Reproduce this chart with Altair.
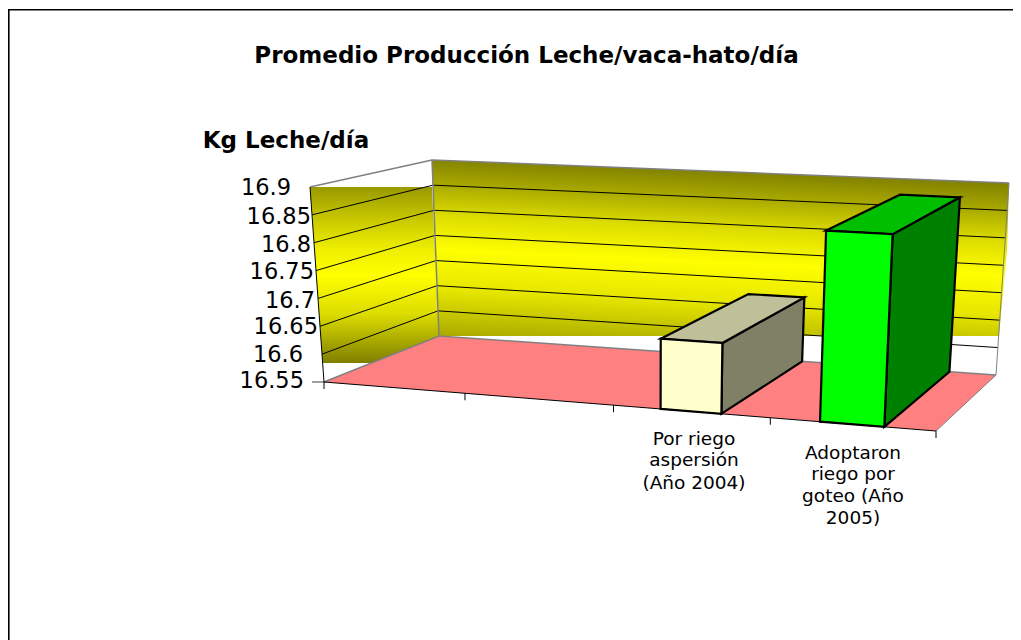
import altair as alt
import pandas as pd

# ---- data ----
categories = ["", "", "Por riego aspersión (Año 2004)", "Adoptaron riego por goteo (Año 2005)"]
values = [None, None, 16.67, 16.87]
y_ticks = [16.55, 16.6, 16.65, 16.7, 16.75, 16.8, 16.85, 16.9]
y_tick_labels = ["16.55", "16.6", "16.65", "16.7", "16.75", "16.8", "16.85", "16.9"]
label_lines = [["Por riego", "aspersión", "(Año 2004)"],
               ["Adoptaron", "riego por", "goteo (Año", "2005)"]]
title = "Promedio Producción Leche/vaca-hato/día"
axis_title = "Kg Leche/día"

# ---- oblique view geometry (page pixels) ----
FLOOR = [(324, 382), (936, 431), (996, 375), (439, 336)]   # front-left, front-right, back-right, back-left
RISE = [(-14, -195), (11, -212), (13, -192), (-7, -176)]   # full axis height seen at each floor corner
BAR_WIDTH = 0.097
LABEL_RIGHT = [304, 303, 318, 315, 314, 311, 311, 291]
LABEL_Y = [381, 355, 327, 301, 272, 245, 217, 188]
CAT_X = [694, 853]
CAT_Y = [[439, 460, 483], [453, 474, 496, 518]]
BAR_STYLE = {
    2: {"front": "#FFFFCC", "top": "#BFBF99", "side": "#808066"},
    3: {"front": "#00FF00", "top": "#00BF00", "side": "#008000"},
}
LEFT_WALL_STOPS = [(0, "#999900"), (0.2, "#CCCC00"), (0.35, "#EEEE00"), (0.5, "#FFFF00"),
                   (0.72, "#DDDD00"), (0.9, "#A0A000"), (1, "#7F7F00")]
BACK_WALL_STOPS = [(0, "#7F7F00"), (0.16, "#AAAA00"), (0.33, "#DDDD00"), (0.52, "#FFFF00"),
                   (0.74, "#E6E600"), (1, "#AAAA00")]


def homography(q):
    (x0, y0), (x1, y1), (x2, y2), (x3, y3) = q
    dx1, dy1 = x1 - x2, y1 - y2
    dx2, dy2 = x3 - x2, y3 - y2
    sx, sy = x0 - x1 + x2 - x3, y0 - y1 + y2 - y3
    den = dx1 * dy2 - dx2 * dy1
    g = (sx * dy2 - dx2 * sy) / den
    h = (dx1 * sy - sx * dy1) / den
    a, b, c = x1 - x0 + g * x1, x3 - x0 + h * x3, x0
    d, e, f = y1 - y0 + g * y1, y3 - y0 + h * y3, y0

    def proj(u, w):
        k = g * u + h * w + 1
        return (a * u + b * w + c) / k, (d * u + e * w + f) / k
    return proj


floor_h = homography(FLOOR)
vmin, vmax = y_ticks[0], y_ticks[-1]


def P(u, w, v):
    t = (v - vmin) / (vmax - vmin)
    fx, fy = floor_h(u, w)
    (a, b), (c, d), (e, f), (g, h) = RISE
    rx = (a * (1 - u) + c * u) * (1 - w) + (g * (1 - u) + e * u) * w
    ry = (b * (1 - u) + d * u) * (1 - w) + (h * (1 - u) + f * u) * w
    return fx + rx * t, fy + ry * t


xs = alt.Scale(domain=[8, 1013], range=[0, 1005], nice=False, zero=False)
ys = alt.Scale(domain=[8, 640], range=[0, 632], nice=False, zero=False)
X = alt.X("x:Q", scale=xs, axis=None)
Y = alt.Y("y:Q", scale=ys, axis=None)


def area_rows(poly):
    rows = []
    n = len(poly)
    for x in sorted({p[0] for p in poly}):
        hits = []
        for i in range(n):
            (ax, ay), (bx, by) = poly[i], poly[(i + 1) % n]
            if min(ax, bx) <= x <= max(ax, bx):
                if ax == bx:
                    hits += [ay, by]
                else:
                    hits.append(ay + (by - ay) * (x - ax) / (bx - ax))
        rows.append({"x": x, "y": min(hits), "y2": max(hits)})
    return pd.DataFrame(rows)


def face(poly, color, **kw):
    return alt.Chart(area_rows(poly)).mark_area(color=color, **kw).encode(
        x=X, y=Y, y2="y2:Q")


def lines(segs, color, width):
    rows = []
    for i, seg in enumerate(segs):
        for j, (x, y) in enumerate(seg):
            rows.append({"x": x, "y": y, "s": i, "j": j})
    return alt.Chart(pd.DataFrame(rows)).mark_line(
        color=color, strokeWidth=width, strokeCap="butt").encode(
        x=X, y=Y, detail="s:N", order="j:Q")


def wall_gradient(stops, x1=0.0):
    return alt.Gradient(
        gradient="linear", x1=x1, x2=0, y1=0, y2=1,
        stops=[alt.GradientStop(offset=o, color=c) for o, c in stops])


layers = []

# walls
layers.append(face([(310, 187), (432, 187), (439, 336), (380, 363), (322.7, 363)],
                   wall_gradient(LEFT_WALL_STOPS)))
layers.append(face([(432, 160), (1009, 183), (1007, 250), (999, 336), (439, 336)],
                   wall_gradient(BACK_WALL_STOPS, x1=0.147)))

# gridlines
grid = []
for v in y_ticks[1:-1]:
    grid.append([P(0, 0, v), P(0, 1, v), P(1, 1, v)])
layers.append(lines(grid, "#000000", 1))

# floor
layers.append(face(FLOOR, "#FF8080"))

# grey frame of the walls
grey = [[P(0, 0, vmax), P(0, 1, vmax), P(1, 1, vmax)],
        [P(0, 1, vmax), P(0, 1, vmin)],
        [P(0, 0, vmin), P(0, 1, vmin), P(1, 1, vmin)],
        [(312, 382), P(0, 0, vmin)]]
layers.append(lines(grey, "#808080", 1.5))
layers.append(lines([[P(1, 1, vmax), P(1, 1, vmin), P(1, 0, vmin)]], "#808080", 1))

# bars
for idx, val in enumerate(values):
    if val is None:
        continue
    c = (idx + 0.5) / len(categories)
    u0, u1 = c - BAR_WIDTH / 2, c + BAR_WIDTH / 2
    st = BAR_STYLE[idx]
    bar_kw = dict(stroke="#000000", strokeWidth=2.2, strokeJoin="miter")
    layers.append(face([P(u1, 0, vmin), P(u1, 1, vmin), P(u1, 1, val), P(u1, 0, val)], st["side"], **bar_kw))
    layers.append(face([P(u0, 0, val), P(u1, 0, val), P(u1, 1, val), P(u0, 1, val)], st["top"], **bar_kw))
    layers.append(face([P(u0, 0, vmin), P(u1, 0, vmin), P(u1, 0, val), P(u0, 0, val)], st["front"], **bar_kw))

# axis lines and category ticks
axis_segs = [[P(0, 0, vmax), P(0, 0, vmin)], [P(0, 0, vmin), P(1, 0, vmin)]]
for k in range(len(categories) + 1):
    px, py = P(k / len(categories), 0, vmin)
    axis_segs.append([(px, py), (px, py + 7)])
layers.append(lines(axis_segs, "#000000", 1))

# page frame
layers.append(lines([[(1013, 9.7), (8.8, 9.7), (8.8, 640)]], "#000000", 1.6))

# text
FONT = "DejaVu Sans"
tick_df = pd.DataFrame({"x": LABEL_RIGHT, "y": LABEL_Y, "t": y_tick_labels})
layers.append(alt.Chart(tick_df).mark_text(font=FONT, fontSize=22.5, align="right", baseline="middle", color="#000000")
              .encode(x=X, y=Y, text="t:N"))
cat_rows = []
for cx, cy, ls in zip(CAT_X, CAT_Y, label_lines):
    for yy, t in zip(cy, ls):
        cat_rows.append({"x": cx, "y": yy, "t": t})
layers.append(alt.Chart(pd.DataFrame(cat_rows)).mark_text(font=FONT, fontSize=18.5, align="center", baseline="middle", color="#000000")
              .encode(x=X, y=Y, text="t:N"))
title_df = pd.DataFrame({"x": [526.5, 286], "y": [56, 141], "t": [title, axis_title]})
layers.append(alt.Chart(title_df).mark_text(font=FONT, fontSize=23, fontWeight="bold", align="center", baseline="middle", color="#000000")
              .encode(x=X, y=Y, text="t:N"))

chart = alt.layer(*layers).properties(width=1005, height=632, padding=0, autosize="none",
                                      background="#FFFFFF").configure_view(stroke=None)
chart.save("out.html", embed_options={"renderer": "svg", "actions": False})
